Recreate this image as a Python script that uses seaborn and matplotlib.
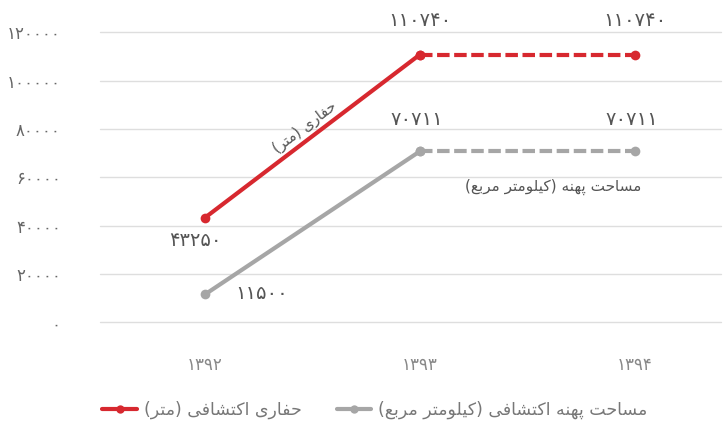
import matplotlib
matplotlib.use("Agg")
import matplotlib.pyplot as plt
from matplotlib.lines import Line2D
import pandas as pd
import seaborn as sns

# chart values
years = ["1392", "1393", "1394"]
drilling = [43250, 110740, 110740]
area = [11500, 70711, 70711]
yticks = [0, 20000, 40000, 60000, 80000, 100000, 120000]
drill_name = "حفاری اکتشافی (متر)"
area_name = "مساحت پهنه اکتشافی (کیلومتر مربع)"
drill_inline = "حفاری (متر)"
area_inline = "مساحت پهنه (کیلومتر مربع)"

RED = "#d7282f"
GREY = "#a6a6a6"
TXT = "#555555"

# minimal Persian shaping (presentation forms) + visual reordering
FORMS = {
    "ا": ("\uFE8D", "\uFE8E", None, None),
    "ب": ("\uFE8F", "\uFE90", "\uFE91", "\uFE92"),
    "ت": ("\uFE95", "\uFE96", "\uFE97", "\uFE98"),
    "ح": ("\uFEA1", "\uFEA2", "\uFEA3", "\uFEA4"),
    "ر": ("\uFEAD", "\uFEAE", None, None),
    "س": ("\uFEB1", "\uFEB2", "\uFEB3", "\uFEB4"),
    "ش": ("\uFEB5", "\uFEB6", "\uFEB7", "\uFEB8"),
    "ع": ("\uFEC9", "\uFECA", "\uFECB", "\uFECC"),
    "ف": ("\uFED1", "\uFED2", "\uFED3", "\uFED4"),
    "ل": ("\uFEDD", "\uFEDE", "\uFEDF", "\uFEE0"),
    "م": ("\uFEE1", "\uFEE2", "\uFEE3", "\uFEE4"),
    "ن": ("\uFEE5", "\uFEE6", "\uFEE7", "\uFEE8"),
    "ه": ("\uFEE9", "\uFEEA", "\uFEEB", "\uFEEC"),
    "و": ("\uFEED", "\uFEEE", None, None),
    "پ": ("\uFB56", "\uFB57", "\uFB58", "\uFB59"),
    "ک": ("\uFB8E", "\uFB8F", "\uFB90", "\uFB91"),
    "ی": ("\uFBFC", "\uFBFD", "\uFBFE", "\uFBFF"),
}


def fa(text):
    out = []
    for i, c in enumerate(text):
        if c not in FORMS:
            out.append(c)
            continue
        iso, fin, ini, med = FORMS[c]
        prev = text[i - 1] if i > 0 else None
        nxt = text[i + 1] if i + 1 < len(text) else None
        jp = prev in FORMS and FORMS[prev][2] is not None
        jn = ini is not None and nxt in FORMS
        if jp and jn:
            out.append(med)
        elif jp:
            out.append(fin)
        elif jn:
            out.append(ini)
        else:
            out.append(iso)
    return "".join(out)[::-1].translate(str.maketrans("()", ")("))


DIG = str.maketrans("0123456789", "۰۱۲۳۴۵۶۷۸۹")


def fnum(v):
    return str(v).translate(DIG)


sns.set_style("white")
plt.rcParams["font.family"] = ["DejaVu Sans"]

fig = plt.figure(figsize=(7.28, 4.29), dpi=100)
ax = fig.add_axes([0.137, 0.249, 0.853, 0.676])

pos = list(range(len(years)))
df = pd.DataFrame({"x": pos, "drill": drilling, "area": area})

for col, color in [("area", GREY), ("drill", RED)]:
    sns.lineplot(data=df.iloc[:2], x="x", y=col, ax=ax, color=color, lw=3,
                 marker="o", markersize=7, markeredgewidth=0, clip_on=False)
    sns.lineplot(data=df.iloc[1:], x="x", y=col, ax=ax, color=color, lw=3,
                 ls=(0, (3, 1.1)), marker="o", markersize=7,
                 markeredgewidth=0, clip_on=False)

ax.set_xlim(-0.49, 2.4)
ax.set_ylim(0, 120000)
ax.set_yticks(yticks)
ax.set_yticklabels([fnum(v) for v in yticks], color="#666666", fontsize=12)
ax.set_xticks(pos)
ax.set_xticklabels([fnum(y) for y in years], color="#888888", fontsize=12)
ax.tick_params(axis="y", length=0, pad=28)
ax.tick_params(axis="x", length=0, pad=24)
ax.grid(axis="y", color="#dedede", lw=1)
for gl in ax.get_ygridlines():
    gl.set_clip_on(False)
ax.set_axisbelow(True)
for s in ax.spines.values():
    s.set_visible(False)
ax.set_xlabel("")
ax.set_ylabel("")

# value labels
for i in (1, 2):
    ax.annotate(fnum(drilling[i]), (pos[i], drilling[i]), xytext=(0, 34),
                textcoords="offset pixels", ha="center", va="center",
                fontsize=14, color=TXT, annotation_clip=False)
    ax.annotate(fnum(area[i]), (pos[i], area[i]), xytext=(-3, 32),
                textcoords="offset pixels", ha="center", va="center",
                fontsize=14, color=TXT)
ax.annotate(fnum(drilling[0]), (pos[0], drilling[0]), xytext=(-10, -23),
            textcoords="offset pixels", ha="center", va="center",
            fontsize=14, color=TXT)
ax.annotate(fnum(area[0]), (pos[0], area[0]), xytext=(57, 1),
            textcoords="offset pixels", ha="center", va="center",
            fontsize=14, color=TXT)

# series names on the lines
ax.annotate(fa(drill_inline), (0.5, (drilling[0] + drilling[1]) / 2),
            xytext=(-8, 9), textcoords="offset pixels", ha="center",
            va="center", rotation=37, fontsize=10.5, color=TXT)
ax.annotate(fa(area_inline), (1.5, area[1]), xytext=(26, -36),
            textcoords="offset pixels", ha="center", va="center",
            fontsize=11, color=TXT)

handles = [
    Line2D([], [], color=RED, lw=3, marker="o", markersize=6, markeredgewidth=0),
    Line2D([], [], color=GREY, lw=3, marker="o", markersize=6, markeredgewidth=0),
]
fig.legend(handles, [fa(drill_name), fa(area_name)], loc="center",
           bbox_to_anchor=(0.515, 0.044), ncol=2, frameon=False, fontsize=12.5,
           labelcolor="#777777", handlelength=2.0, handletextpad=0.4,
           columnspacing=2.0)

fig.savefig("out.png", dpi=100)
